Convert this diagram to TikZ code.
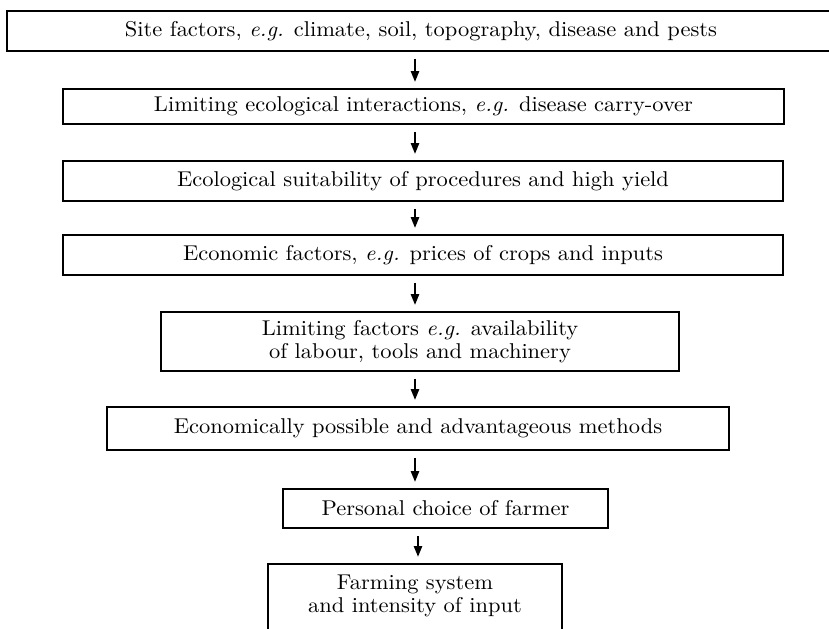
\documentclass[tikz,border=0pt]{standalone}
\usepackage{fontspec}
\setmainfont{Latin Modern Roman}[FakeStretch=1.05]
\usetikzlibrary{arrows.meta}
\begin{document}
\begin{tikzpicture}[x=0.5pt,y=-0.5pt,
  box/.style={draw, line width=0.9pt, rectangle, inner sep=0pt, align=center,
    font=\fontsize{10.7}{11.5}\selectfont},
  arr/.style={line width=1.2pt, -{Triangle[length=5.5pt,width=4pt]},
    shorten <=3.5pt, shorten >=3pt}]
\useasboundingbox (0,0) rectangle (829,628);
\clip (0,0) rectangle (829,628);
\fill[white] (0,0) rectangle (829,628);
\coordinate (ax) at (415,0);
\coordinate (bx) at (418,0);
\node[box, minimum width=414pt, minimum height=20pt] (b1) at (421,31)
  {Site factors, \emph{e.g.} climate, soil, topography, disease and pests};
\node[box, minimum width=360.5pt, minimum height=17.5pt] (b2) at (423.5,106.5)
  {Limiting ecological interactions, \emph{e.g.} disease carry-over};
\node[box, minimum width=360pt, minimum height=20pt] (b3) at (423,181)
  {Ecological suitability of procedures and high yield};
\node[box, minimum width=360pt, minimum height=20pt] (b4) at (423,255)
  {Economic factors, \emph{e.g.} prices of crops and inputs};
\node[box, minimum width=259pt, minimum height=29.5pt] (b5) at (420,341.5)
  {Limiting factors \emph{e.g.} availability\\ of labour, tools and machinery};
\node[box, minimum width=311pt, minimum height=21.5pt] (b6) at (418,428.5)
  {Economically possible and advantageous methods};
\node[box, minimum width=162.5pt, minimum height=19.5pt] (b7) at (445.5,508.5)
  {Personal choice of farmer};
\node[box, minimum width=147pt, inner ysep=5.5pt, anchor=north] (b8) at (415,563)
  {Farming system\\ and intensity of input\rule[-30pt]{0pt}{0pt}};
\draw[arr] (b1.south -| ax) -- (b2.north -| ax);
\draw[arr] (b2.south -| ax) -- (b3.north -| ax);
\draw[arr] (b3.south -| ax) -- (b4.north -| ax);
\draw[arr] (b4.south -| ax) -- (b5.north -| ax);
\draw[arr] (b5.south -| ax) -- (b6.north -| ax);
\draw[arr] (b6.south -| ax) -- (b7.north -| ax);
\draw[arr] (b7.south -| bx) -- (b8.north -| bx);
\end{tikzpicture}
\end{document}
